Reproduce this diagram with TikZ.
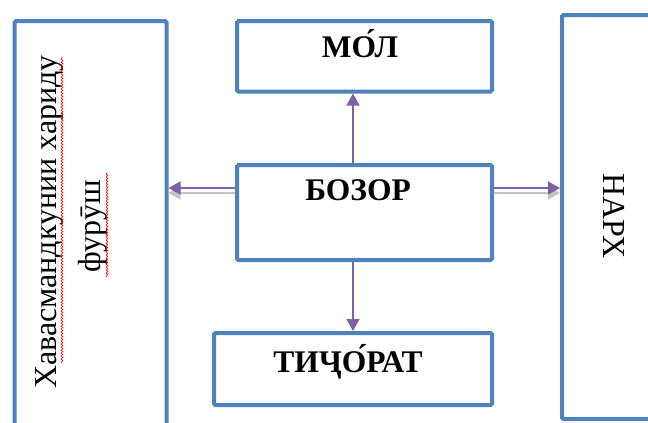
\documentclass[tikz,border=0pt]{standalone}
\usepackage{fontspec}
\setmainfont{Liberation Serif}
\usetikzlibrary{arrows.meta,decorations.pathmorphing,calc}
\definecolor{boxblue}{HTML}{4F81BD}
\definecolor{arrpurple}{HTML}{7F60A8}
\definecolor{shadowgray}{HTML}{C4C4C4}
\begin{document}
\begin{tikzpicture}[x=1pt,y=-1pt,
  box/.style={draw=boxblue,line width=4pt,rounded corners=1.5pt,fill=white,inner sep=0pt,anchor=north west},
  lbl/.style={font=\fontsize{31.5}{36}\selectfont\bfseries,anchor=base,inner sep=0pt},
  rlbl/.style={font=\fontsize{32}{37}\selectfont,anchor=base,inner sep=0pt},
  arr/.style={draw=arrpurple,line width=1.5pt,-{Triangle[width=13pt,length=12pt]}},
  shd/.style={draw=shadowgray,line width=1.5pt,-{Triangle[width=13pt,length=12pt]}},
  wavy/.style={draw=red,line width=0.6pt,decorate,decoration={snake,segment length=3pt,amplitude=0.9pt}}]
\clip (0,0) rectangle (648,423);
\fill[white] (0,0) rectangle (648,423);
% boxes
\node[box,minimum width=152pt,minimum height=460pt] (lb) at (12.5,19) {};
\node[box,minimum width=255pt,minimum height=70.5pt] (mol) at (235,19) {};
\node[box,minimum width=255pt,minimum height=95pt] (bz) at (235,163) {};
\node[box,minimum width=278pt,minimum height=72pt] (tj) at (212,331) {};
\node[box,minimum width=140pt,minimum height=404pt] (nr) at (560,13) {};
% labels
\node[lbl] (tmol) at (360,57) {МО́Л};
\node[lbl] (tbz) at (358,200) {БОЗОР};
\node[lbl] (ttj) at (348,372) {ТИҶО́РАТ};
\node[rlbl,rotate=-90] (tnr) at (603,216) {НАРХ};
\node[rlbl,rotate=90] (tl1) at (56,222) {Хавасмандкунии хариду};
\node[rlbl,rotate=90] (tl2) at (100,226.5) {фурӯш};
% spell-check underlines
\draw[wavy] (62,363) -- (62,57);
\draw[wavy] (107,277) -- (107,173);
% connectors
\coordinate (hl) at ([yshift=24.5pt]bz.west);
\coordinate (hr) at ([yshift=24.5pt]bz.east);
\coordinate (vt) at ([xshift=-11.5pt]bz.north);
\coordinate (vb) at ([xshift=-11.5pt]bz.south);
\draw[shd] ([yshift=-5pt]hl) -- ([yshift=-5pt]hl -| lb.east);
\draw[shd] ([yshift=-5pt]hr) -- ([yshift=-5pt]hr -| nr.west);
\draw[arr] (hl) -- (hl -| lb.east);
\draw[arr] (hr) -- (hr -| nr.west);
\draw[arr] (vt) -- (vt |- mol.south);
\draw[arr] (vb) -- (vb |- tj.north);
\end{tikzpicture}
\end{document}
